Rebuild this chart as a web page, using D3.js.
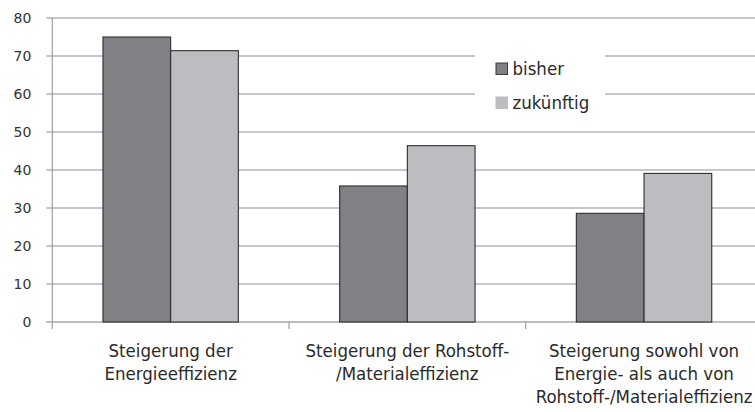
<!DOCTYPE html>
<html>
<head>
<meta charset="utf-8">
<script src="https://cdn.jsdelivr.net/npm/d3@7"></script>
<style>
  html, body { margin: 0; padding: 0; background: #fff; }
  svg { display: block; }
</style>
</head>
<body>
<svg id="chart" width="755" height="412"></svg>
<script>
// Kategorien (mehrzeilige Beschriftung) und Werte je Reihe
const categories = [
  ["Steigerung der", "Energieeffizienz"],
  ["Steigerung der Rohstoff-", "/Materialeffizienz"],
  ["Steigerung sowohl von", "Energie- als auch von", "Rohstoff-/Materialeffizienz"]
];
const seriesNames = ["bisher", "zukünftig"];
const bisher = [75.0, 35.8, 28.6];
const zukuenftig = [71.4, 46.4, 39.1];
const yTicks = [0, 10, 20, 30, 40, 50, 60, 70, 80];

const colors = { bisher: "#808185", "zukünftig": "#bcbdc1" };
const labelFont = "'DejaVu Sans Condensed', sans-serif";
const tickFont = "'DejaVu Sans', sans-serif";

const svg = d3.select("#chart");
const W = 755;
const plotLeft = 52.3, plotRight = 762.4, plotTop = 18, plotBottom = 322;

const catKeys = categories.map((c, i) => i);
const x = d3.scaleBand().domain(catKeys).range([plotLeft, plotRight])
  .paddingInner(0.428).paddingOuter(0.214);
const xs = d3.scaleBand().domain(seriesNames).range([0, x.bandwidth()]);
const y = d3.scaleLinear().domain([0, 80]).range([plotBottom, plotTop]);

// Gitterlinien mit Teilstrichen links der Achse
svg.append("g").selectAll("line").data(yTicks).join("line")
  .attr("x1", plotLeft - 6).attr("x2", W)
  .attr("y1", d => y(d)).attr("y2", d => y(d))
  .attr("stroke", d => d === 0 ? "#a8a8a8" : "#b4b4b4")
  .attr("stroke-width", 1.3);

// Y-Achsenbeschriftung
svg.append("g").selectAll("text").data(yTicks).join("text")
  .attr("x", plotLeft - 21).attr("y", d => y(d) + 5)
  .attr("text-anchor", "end")
  .attr("font-family", tickFont).attr("font-size", 14)
  .attr("fill", "#333")
  .text(d => d);

// Y-Achse
svg.append("line")
  .attr("x1", plotLeft).attr("x2", plotLeft)
  .attr("y1", plotTop).attr("y2", plotBottom + 7)
  .attr("stroke", "#a0a0a0").attr("stroke-width", 1.2);

// Teilstriche zwischen den Kategorien
const sep = catKeys.slice(1).map(i => x(i) - x.step() * x.paddingInner() / 2);
svg.append("g").selectAll("line").data(sep).join("line")
  .attr("x1", d => d).attr("x2", d => d)
  .attr("y1", plotBottom).attr("y2", plotBottom + 7)
  .attr("stroke", "#a0a0a0").attr("stroke-width", 1.2);

// Balken
const rows = catKeys.map(i => ({ i, values: [
  { key: "bisher", v: bisher[i] },
  { key: "zukünftig", v: zukuenftig[i] }
]}));
svg.append("g").selectAll("g").data(rows).join("g")
  .attr("transform", d => `translate(${x(d.i)},0)`)
  .selectAll("rect").data(d => d.values).join("rect")
  .attr("x", d => xs(d.key))
  .attr("width", xs.bandwidth())
  .attr("y", d => y(d.v))
  .attr("height", d => y(0) - y(d.v))
  .attr("fill", d => colors[d.key])
  .attr("stroke", "#2e2e2e").attr("stroke-width", 1.1);

// Kategoriebeschriftung
const cat = svg.append("g").selectAll("text").data(catKeys).join("text")
  .attr("text-anchor", "middle")
  .attr("font-family", labelFont).attr("font-size", 18.5)
  .attr("fill", "#2a2a2a");
cat.selectAll("tspan").data(i => categories[i].map(t => ({ t, i }))).join("tspan")
  .attr("x", d => x(d.i) + x.bandwidth() / 2)
  .attr("y", (d, k) => 357 + k * 23)
  .text(d => d.t);

// Legende
const lg = svg.append("g");
lg.append("rect").attr("x", 475).attr("y", 48).attr("width", 130).attr("height", 70).attr("fill", "#fff");
seriesNames.forEach((s, k) => {
  lg.append("rect").attr("x", 496).attr("y", 63 + k * 34).attr("width", 11.5).attr("height", 11.5)
    .attr("fill", colors[s]).attr("stroke", k === 0 ? "#3a3a3a" : colors[s]).attr("stroke-width", 1);
  lg.append("text").attr("x", 512.5).attr("y", 75 + k * 33.5)
    .attr("font-family", labelFont).attr("font-size", 18.5)
    .attr("fill", "#2a2a2a").text(s);
});
</script>
</body>
</html>
